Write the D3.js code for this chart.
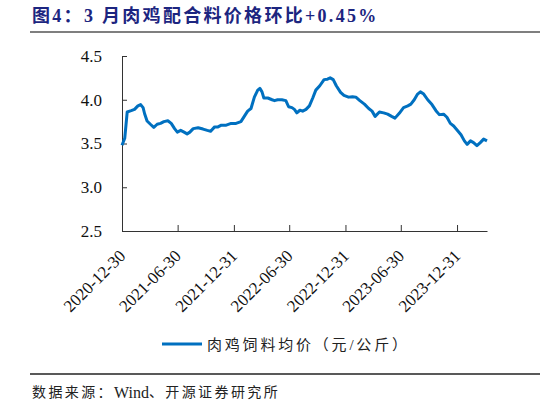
<!DOCTYPE html>
<html lang="zh">
  <head>
    <meta charset="UTF-8" />
    <title>肉鸡饲料均价</title>
    <style>
      body { margin: 0; background: #fff; }
      text { font-family: "Liberation Serif", "Noto Sans CJK SC", serif; }
    </style>
  </head>
  <body>
    <svg id="chart-d3"></svg>
  </body>
</html>

<script src="https://cdnjs.cloudflare.com/ajax/libs/d3/7.0.1/d3.js"></script>

<script>
  // 读图估计的数据点 (日期, 元/公斤).
  const dates = [
    "2020-12-30", "2021-01-08", "2021-01-16", "2021-01-29", "2021-02-09", "2021-02-20",
    "2021-03-01", "2021-03-09", "2021-03-14", "2021-03-22", "2021-04-02", "2021-04-13",
    "2021-04-24", "2021-05-05", "2021-05-16", "2021-05-29", "2021-06-09", "2021-06-20",
    "2021-06-29", "2021-07-10", "2021-07-21", "2021-07-31", "2021-08-09", "2021-08-20",
    "2021-09-05", "2021-09-21", "2021-10-05", "2021-10-16", "2021-10-29", "2021-11-09",
    "2021-11-20", "2021-12-06", "2021-12-22", "2022-01-07", "2022-01-23", "2022-02-03",
    "2022-02-14", "2022-02-25", "2022-03-08", "2022-03-19", "2022-03-26", "2022-04-02",
    "2022-04-08", "2022-04-21", "2022-05-05", "2022-05-13", "2022-05-23", "2022-06-06",
    "2022-06-19", "2022-06-28", "2022-07-09", "2022-07-17", "2022-07-25", "2022-08-04",
    "2022-08-13", "2022-08-24", "2022-09-04", "2022-09-15", "2022-09-25", "2022-10-08",
    "2022-10-22", "2022-11-02", "2022-11-11", "2022-11-21", "2022-12-01", "2022-12-15",
    "2022-12-26", "2023-01-10", "2023-01-23", "2023-02-03", "2023-02-16", "2023-03-03",
    "2023-03-17", "2023-03-28", "2023-04-07", "2023-04-21", "2023-05-05", "2023-05-18",
    "2023-05-31", "2023-06-11", "2023-06-25", "2023-07-09", "2023-07-23", "2023-08-02",
    "2023-08-13", "2023-08-24", "2023-09-02", "2023-09-13", "2023-09-26", "2023-10-10",
    "2023-10-23", "2023-11-03", "2023-11-17", "2023-11-28", "2023-12-09", "2023-12-20",
    "2023-12-31", "2024-01-13", "2024-01-24", "2024-02-02", "2024-02-13", "2024-02-23",
    "2024-03-05", "2024-03-16", "2024-03-27", "2024-04-07",
  ];
  const prices = [
    3.48, 3.56, 3.86, 3.875, 3.89, 3.93,
    3.945, 3.91, 3.84, 3.757, 3.72, 3.685,
    3.72, 3.73, 3.75, 3.76, 3.73, 3.67,
    3.63, 3.65, 3.63, 3.61, 3.63, 3.67,
    3.68, 3.665, 3.65, 3.64, 3.69, 3.69,
    3.71, 3.71, 3.73, 3.73, 3.75, 3.81,
    3.87, 3.9, 4.03, 4.11, 4.13, 4.09,
    4.02, 4.02, 4.0, 3.99, 4.0, 4.0,
    3.99, 3.92, 3.91, 3.89, 3.85, 3.88,
    3.87, 3.89, 3.93, 4.02, 4.11, 4.16,
    4.23, 4.235, 4.25, 4.23, 4.16, 4.085,
    4.05, 4.03, 4.035, 4.03, 3.99, 3.95,
    3.9, 3.87, 3.81, 3.86, 3.85, 3.835,
    3.81, 3.79, 3.845, 3.91, 3.93, 3.95,
    4.0, 4.065, 4.09, 4.065, 4.0, 3.945,
    3.875, 3.83, 3.835, 3.8, 3.73, 3.7,
    3.655, 3.6, 3.53, 3.49, 3.53, 3.51,
    3.475, 3.51, 3.55, 3.53,
  ];
  const xTickLabels = [
    "2020-12-30", "2021-06-30", "2021-12-31", "2022-06-30",
    "2022-12-31", "2023-06-30", "2023-12-31",
  ];
  const yTicks = [2.5, 3.0, 3.5, 4.0, 4.5];

  const titleText = "图4：3 月肉鸡配合料价格环比+0.45%";
  const seriesName = "肉鸡饲料均价（元/公斤）";

  function getChart({ width = 546, height = 405 }) {
    const parse = d3.timeParse("%Y-%m-%d");
    const data = dates.map((d, i) => ({ date: parse(d), value: prices[i] }));

    let chart = d3.select("#chart-d3"),
      margin = { left: 122, top: 56, right: 59, bottom: 174 },
      x = d3
        .scaleTime()
        .domain([data[0].date, data[data.length - 1].date])
        .range([margin.left, width - margin.right]),
      y = d3
        .scaleLinear()
        .domain([2.5, 4.5])
        .range([height - margin.bottom, margin.top]),
      xAxis = d3
        .axisBottom(x)
        .tickValues(xTickLabels.map(parse))
        .tickFormat(d3.timeFormat("%Y-%m-%d"))
        .tickSize(-6)
        .tickSizeOuter(0),
      yAxis = d3
        .axisLeft(y)
        .tickValues(yTicks)
        .tickFormat(d3.format(".1f"))
        .tickSize(-5)
        .tickSizeOuter(0)
        .tickPadding(20);

    chart.attr("width", width).attr("height", height);

    // 标题和上方分隔线.
    chart
      .append("text")
      .attr("x", 32)
      .attr("y", 16)
      .attr("dominant-baseline", "central")
      .attr("fill", "#1c2580")
      .attr("font-weight", "bold")
      .attr("font-size", 18)
      .attr("letter-spacing", 2.3)
      .text(titleText);

    chart
      .append("line")
      .attr("x1", 30)
      .attr("x2", 540)
      .attr("y1", 32)
      .attr("y2", 32)
      .attr("stroke", "#555")
      .attr("stroke-width", 1.6);

    // x 轴.
    const gx = chart
      .append("g")
      .attr("transform", `translate(0, ${height - margin.bottom})`)
      .call(xAxis);
    gx.selectAll("text")
      .attr("x", 0)
      .attr("y", 0)
      .attr("dy", 0)
      .attr("text-anchor", "end")
      .attr("transform", "translate(4, 26) rotate(-45)");

    // y 轴.
    chart
      .append("g")
      .attr("transform", `translate(${margin.left}, 0)`)
      .call(yAxis);

    chart.selectAll(".tick text").attr("font-size", 17).attr("fill", "#111");
    chart.selectAll(".domain, .tick line").attr("stroke", "#333");

    // 折线.
    const line = d3
      .line()
      .x((d) => x(d.date))
      .y((d) => y(d.value));

    chart
      .append("path")
      .datum(data)
      .attr("fill", "none")
      .attr("stroke", "#0070c0")
      .attr("stroke-width", 3)
      .attr("stroke-linejoin", "round")
      .attr("d", line);

    // 图例.
    chart
      .append("line")
      .attr("x1", 162)
      .attr("x2", 202)
      .attr("y1", 344)
      .attr("y2", 344)
      .attr("stroke", "#0070c0")
      .attr("stroke-width", 3);

    chart
      .append("text")
      .attr("x", 207)
      .attr("y", 345)
      .attr("dominant-baseline", "central")
      .attr("font-size", 15)
      .attr("letter-spacing", 2.8)
      .attr("fill", "#222")
      .text(seriesName);

    // 下方分隔线和资料来源.
    chart
      .append("line")
      .attr("x1", 30)
      .attr("x2", 540)
      .attr("y1", 374)
      .attr("y2", 374)
      .attr("stroke", "#222")
      .attr("stroke-width", 1.3);

    const source = chart
      .append("text")
      .attr("x", 32)
      .attr("y", 392)
      .attr("dominant-baseline", "central")
      .attr("font-size", 14)
      .attr("fill", "#222");
    source.append("tspan").attr("letter-spacing", 2.4).text("数据来源：");
    source.append("tspan").attr("font-size", 16).text("Wind");
    source.append("tspan").attr("letter-spacing", 2.4).text("、开源证券研究所");
  }

  getChart({});
</script>
